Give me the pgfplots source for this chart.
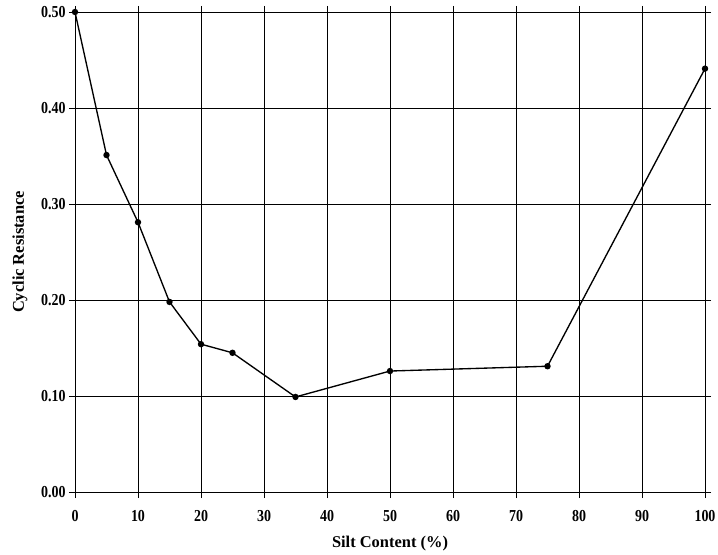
\documentclass[border=0pt]{standalone}
\usepackage{pgfplots}
\pgfplotsset{compat=1.18}
\usepackage{fontspec}
\setmainfont{Liberation Serif}
\begin{document}
\begin{tikzpicture}
\begin{axis}[
  scale only axis,
  anchor=south west, at={(0,0)},
  width=630bp, height=480bp,
  xmin=0, xmax=100, ymin=0, ymax=0.5,
  xtick={0,10,...,100},
  ytick={0,0.1,...,0.5},
  yticklabel style={/pgf/number format/.cd, fixed, fixed zerofill, precision=2},
  /pgf/number format/assume math mode=true,
  tick label style={font=\bfseries\fontsize{14}{16}\selectfont, yscale=1.2},
  xticklabel style={yshift=-7bp},
  xlabel={Silt Content (\%)},
  ylabel={Cyclic Resistance},
  xlabel style={font=\bfseries\fontsize{16.5}{18}\selectfont, at={([yshift=-52bp]axis description cs:0.5,0)}, anchor=center},
  ylabel style={font=\bfseries\fontsize{16.5}{18}\selectfont, at={([xshift=-55bp]axis description cs:0,0.5)}, anchor=center, rotate=0},
  grid=major,
  grid style={black, line width=1pt},
  axis line style={black, line width=1pt},
  tick align=outside,
  major tick length=6bp,
  tick style={black, line width=1pt},
]
\addplot[black, line width=1.35pt, mark=*, mark size=2.5pt] coordinates {
  (0,0.500) (5,0.351) (10,0.281) (15,0.198) (20,0.154) (25,0.145)
  (35,0.099) (50,0.126) (75,0.131) (100,0.441)
};
\end{axis}
\pgfresetboundingbox
\path[use as bounding box] (-75bp,-63bp) rectangle (643bp,492bp);
\end{tikzpicture}
\end{document}
